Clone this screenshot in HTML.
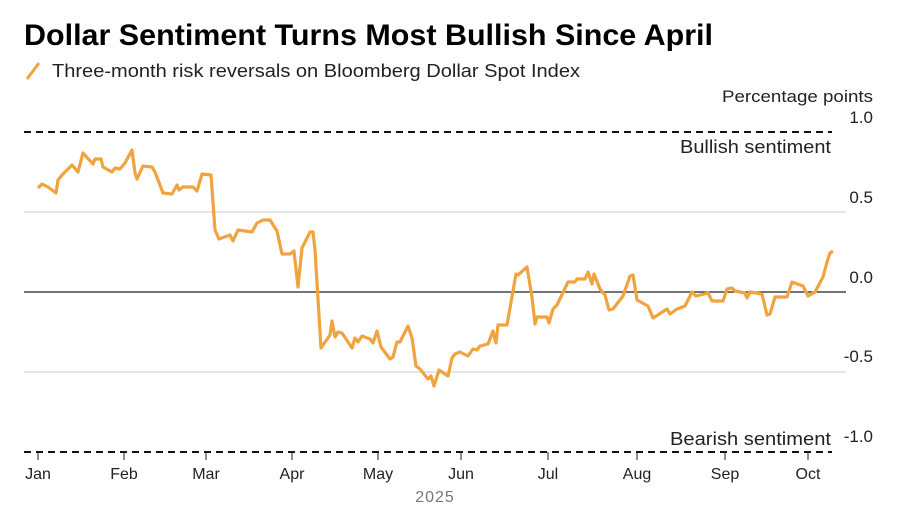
<!DOCTYPE html>
<html><head><meta charset="utf-8"><style>
body{margin:0;background:#fff;width:900px;height:510px;overflow:hidden;font-family:"Liberation Sans",Arial,sans-serif;}
svg text{font-family:"Liberation Sans",Arial,sans-serif;}
</style></head><body>
<svg width="900" height="510" viewBox="0 0 900 510" xmlns="http://www.w3.org/2000/svg">
<text x="24" y="45" font-size="30" font-weight="bold" fill="#000" textLength="689" lengthAdjust="spacingAndGlyphs">Dollar Sentiment Turns Most Bullish Since April</text>
<line x1="27" y1="79" x2="39" y2="63" stroke="#f0a440" stroke-width="3"/>
<text x="52" y="77" font-size="18" fill="#222" textLength="528" lengthAdjust="spacingAndGlyphs">Three-month risk reversals on Bloomberg Dollar Spot Index</text>
<text x="873" y="102" font-size="17" fill="#222" text-anchor="end" textLength="151" lengthAdjust="spacingAndGlyphs">Percentage points</text>
<line x1="24" y1="212" x2="846" y2="212" stroke="#ccc" stroke-width="1"/>
<line x1="24" y1="372" x2="846" y2="372" stroke="#ccc" stroke-width="1"/>
<line x1="24" y1="292" x2="846" y2="292" stroke="#222" stroke-width="1.3"/>
<line x1="24" y1="132" x2="832" y2="132" stroke="#111" stroke-width="2" stroke-dasharray="7,5"/>
<line x1="24" y1="452" x2="832" y2="452" stroke="#111" stroke-width="2" stroke-dasharray="7,5"/>
<text x="873" y="123" font-size="17" fill="#222" text-anchor="end">1.0</text>
<text x="873" y="203" font-size="17" fill="#222" text-anchor="end">0.5</text>
<text x="873" y="283" font-size="17" fill="#222" text-anchor="end">0.0</text>
<text x="873" y="362" font-size="17" fill="#222" text-anchor="end">-0.5</text>
<text x="873" y="442" font-size="17" fill="#222" text-anchor="end">-1.0</text>
<text x="831" y="153" font-size="18" fill="#222" text-anchor="end" textLength="151" lengthAdjust="spacingAndGlyphs">Bullish sentiment</text>
<text x="831" y="445" font-size="18" fill="#222" text-anchor="end" textLength="161" lengthAdjust="spacingAndGlyphs">Bearish sentiment</text>
<polyline fill="none" stroke="#f0a440" stroke-width="3.2" stroke-linejoin="round" points="38,188 42,184 48,187 56,193 58,180 62,175 72,165 78,172 83,153 93,164 95,159 101,159 103,167 112,172 115,168 120,169 125,163 132,150 135,173 137,179 143,166 152,167 155,172 163,193 172,194 177,185 179,190 183,187 193,187 197,191 202,174 211,175 215,230 219,239 230,235 233,241 238,230 252,232 257,223 263,220 270,220 277,231 282,254 290,254 294,251 298,287 302,248 310,232 313,232 315,250 321,348 330,335 332,321 335,337 338,332 342,333 352,348 355,338 358,342 362,336 370,339 373,343 377,331 381,347 390,359 393,357 397,342 400,342 408,326 412,338 416,366 420,369 428,379 431,376 434,386 439,370 448,376 452,358 455,354 460,352 468,356 473,349 477,350 480,346 488,344 493,331 496,343 498,325 507,325 516,274 518,275 527,267 532,297 535,324 537,317 547,317 549,323 553,309 557,305 568,282 575,282 577,279 585,279 588,272 592,284 594,274 600,289 605,295 609,310 613,309 623,296 630,276 633,275 637,300 648,306 653,318 667,309 670,314 677,309 685,306 692,292 696,296 708,293 712,301 723,301 727,289 732,288 735,291 745,293 747,298 750,292 762,294 767,315 770,314 775,297 787,297 792,282 803,286 808,296 815,292 823,277 827,262 830,253 833,251"/>
<g stroke="#222" stroke-width="1">
<line x1="38" y1="452" x2="38" y2="460"/><line x1="124" y1="452" x2="124" y2="460"/><line x1="206" y1="452" x2="206" y2="460"/><line x1="292" y1="452" x2="292" y2="460"/><line x1="378" y1="452" x2="378" y2="460"/><line x1="461" y1="452" x2="461" y2="460"/><line x1="548" y1="452" x2="548" y2="460"/><line x1="637" y1="452" x2="637" y2="460"/><line x1="725" y1="452" x2="725" y2="460"/><line x1="808" y1="452" x2="808" y2="460"/>
</g>
<g font-size="16" fill="#222" text-anchor="middle">
<text x="38" y="479">Jan</text><text x="124" y="479">Feb</text><text x="206" y="479">Mar</text><text x="292" y="479">Apr</text><text x="378" y="479">May</text><text x="461" y="479">Jun</text><text x="548" y="479">Jul</text><text x="637" y="479">Aug</text><text x="725" y="479">Sep</text><text x="808" y="479">Oct</text>
</g>
<text x="435" y="502" font-size="16" fill="#777" text-anchor="middle" letter-spacing="1">2025</text>
</svg>
</body></html>
